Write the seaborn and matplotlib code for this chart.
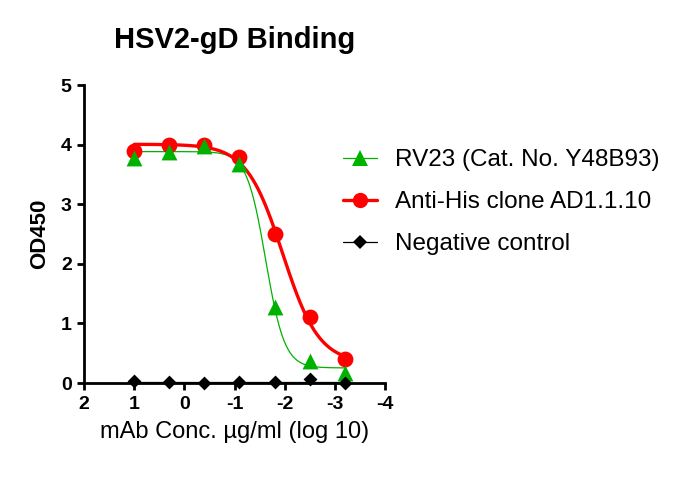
import numpy as np
import pandas as pd
import matplotlib
matplotlib.use("Agg")
import matplotlib.pyplot as plt
from matplotlib.lines import Line2D
import seaborn as sns

# ---- data ----
log_conc = [1.0, 0.301, -0.398, -1.097, -1.796, -2.495, -3.194]
rv23 = [3.78, 3.88, 3.97, 3.68, 1.28, 0.37, 0.17]
anti_his = [3.90, 4.00, 4.00, 3.80, 2.50, 1.10, 0.40]
neg_ctrl = [0.03, 0.02, 0.00, 0.02, 0.02, 0.07, 0.00]
series_names = ["RV23 (Cat. No. Y48B93)", "Anti-His clone AD1.1.10", "Negative control"]
x_ticks = [2, 1, 0, -1, -2, -3, -4]
y_ticks = [0, 1, 2, 3, 4, 5]


def fit4pl(x, y):
    x = np.asarray(x, float)
    y = np.asarray(y, float)
    best = None
    for c in np.linspace(-3.5, 0.5, 401):
        for h in np.linspace(0.3, 6, 115):
            s = 1.0 / (1.0 + 10 ** ((c - x) * h))
            A = np.column_stack([1 - s, s])
            coef, *_ = np.linalg.lstsq(A, y, rcond=None)
            sse = np.sum((A @ coef - y) ** 2)
            if best is None or sse < best[0]:
                best = (sse, coef[0], coef[1], c, h)
    _, bot, top, c, h = best
    return lambda xx: bot + (top - bot) / (1 + 10 ** ((c - xx) * h))


sns.set_theme(style="ticks")
plt.rcParams["font.family"] = ["Liberation Sans", "DejaVu Sans"]
plt.rcParams["axes.unicode_minus"] = False
plt.rcParams["text.color"] = "black"
plt.rcParams["axes.labelcolor"] = "black"
plt.rcParams["xtick.color"] = "black"
plt.rcParams["ytick.color"] = "black"

fig = plt.figure(figsize=(6.9, 4.79), dpi=100)
ax = fig.add_axes([0.122, 0.2004, 0.436, 0.6221])

xs = np.linspace(max(log_conc), min(log_conc), 400)
green = "#00B200"
red = "#FF0000"

f_g = fit4pl(log_conc, rv23)
f_r = fit4pl(log_conc, anti_his)
neg_fit = np.full_like(xs, np.mean(neg_ctrl))  # flat fit of the negative control
curves = pd.DataFrame({"x": xs, "g": f_g(xs), "r": f_r(xs), "n": neg_fit})
pts = pd.DataFrame({"x": log_conc, "g": rv23, "r": anti_his, "n": neg_ctrl})

sns.lineplot(data=curves, x="x", y="n", color="black", lw=0.9, ax=ax, zorder=2)
sns.lineplot(data=curves, x="x", y="g", color=green, lw=0.9, ax=ax, zorder=3)
sns.lineplot(data=curves, x="x", y="r", color=red, lw=2.4, ax=ax, zorder=4)

sns.scatterplot(data=pts, x="x", y="r", color=red, marker="o", s=130,
                edgecolor=red, linewidth=0, ax=ax, zorder=5, clip_on=False)
sns.scatterplot(data=pts, x="x", y="g", color=green, marker="^", s=130,
                edgecolor=green, linewidth=0, ax=ax, zorder=6, clip_on=False)
sns.scatterplot(data=pts, x="x", y="n", color="black", marker="D", s=50,
                edgecolor="black", linewidth=0, ax=ax, zorder=7, clip_on=False)

ax.set_xlim(2, -4)
ax.set_ylim(0, 5)
ax.set_xticks(x_ticks)
ax.set_xticklabels([str(t) for t in x_ticks])
ax.set_yticks(y_ticks)
ax.set_yticklabels([str(t) for t in y_ticks])
sns.despine(ax=ax)
for s in ["left", "bottom"]:
    ax.spines[s].set_linewidth(2.0)
    ax.spines[s].set_color("black")
ax.tick_params(axis="both", direction="out", length=5, width=2.0, colors="black",
               labelsize=14, pad=4)
for lab in ax.get_xticklabels() + ax.get_yticklabels():
    lab.set_fontweight("bold")

ax.set_xlabel("mAb Conc. \u00b5g/ml (log 10)", fontsize=17, labelpad=6, color="black")
ax.set_ylabel("OD450", fontsize=16, fontweight="bold", labelpad=8, color="black")
ax.set_title("HSV2-gD Binding", fontsize=21, fontweight="bold", pad=27, color="black")

handles = [
    Line2D([], [], color=green, lw=0.9, marker="^", markersize=11, markeredgewidth=0),
    Line2D([], [], color=red, lw=2.4, marker="o", markersize=11, markeredgewidth=0),
    Line2D([], [], color="black", lw=0.9, marker="D", markersize=7, markeredgewidth=0),
]
leg = fig.legend(handles, series_names, loc="upper left",
                 bbox_to_anchor=(0.466, 0.734), frameon=False, fontsize=17.5,
                 handlelength=1.4, handletextpad=0.74, labelspacing=0.82)
for t in leg.get_texts():
    t.set_color("black")

fig.savefig("out.png", dpi=100)
